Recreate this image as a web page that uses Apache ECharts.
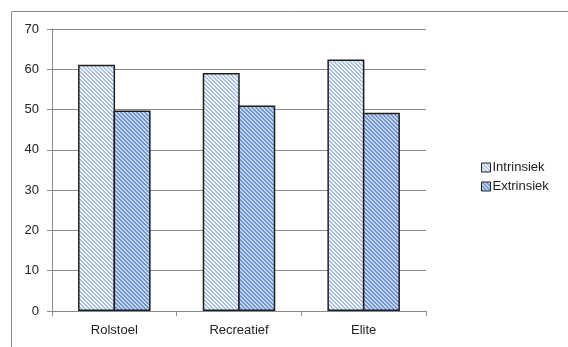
<!DOCTYPE html>
<html>
<head>
<meta charset="utf-8">
<script src="https://cdn.jsdelivr.net/npm/echarts@6/dist/echarts.min.js"></script>
<style>
  html, body { margin: 0; padding: 0; background: #fff; }
  #chart { width: 568px; height: 347px; }
</style>
</head>
<body>
<div id="chart"></div>
<script>
const categories = ['Rolstoel', 'Recreatief', 'Elite'];
const intrinsiek = [61.1, 59.1, 62.4];
const extrinsiek = [49.8, 51.0, 49.2];
const seriesNames = ['Intrinsiek', 'Extrinsiek'];

// Diagonal hatch fill built on a small tiled canvas
function hatch(bg, line, width) {
  const c = document.createElement('canvas');
  c.width = 4; c.height = 4;
  const ctx = c.getContext('2d');
  ctx.fillStyle = bg;
  ctx.fillRect(0, 0, 4, 4);
  ctx.fillStyle = line;
  for (let i = 0; i < 4; i++) {
    for (let w = 0; w < width; w++) {
      ctx.fillRect((i + w) % 4, i, 1, 1);
    }
  }
  return { image: c, repeat: 'repeat' };
}

const fillIntr = hatch('#f4f7fc', '#a7bfe5', 2);
const fillExtr = hatch('#c9d8f0', '#6f93cf', 2);

const chart = echarts.init(document.getElementById('chart'), null, { renderer: 'canvas' });
const font = '"Liberation Sans", "Open Sans", sans-serif';

chart.setOption({
  animation: false,
  backgroundColor: '#fff',
  graphic: [{
    type: 'rect',
    shape: { x: 11.5, y: 11.5, width: 620, height: 400 },
    style: { fill: 'none', stroke: '#8a8a8a', lineWidth: 1 },
    silent: true
  }],
  grid: { left: 52, right: 142, top: 29, bottom: 36 },
  legend: {
    orient: 'vertical',
    left: 476,
    top: 156,
    itemWidth: 9,
    itemHeight: 9,
    itemGap: 6,
    icon: 'rect',
    textStyle: { fontFamily: font, fontSize: 13, color: '#222', padding: [0, 0, 0, -3] },
    itemStyle: { borderColor: '#222', borderWidth: 1 },
    data: seriesNames
  },
  xAxis: {
    type: 'category',
    data: categories,
    axisLine: { lineStyle: { color: '#8a8a8a', width: 1 } },
    axisTick: { show: true, length: 5, lineStyle: { color: '#8a8a8a' } },
    axisLabel: { fontFamily: font, fontSize: 13, color: '#222', margin: 13 }
  },
  yAxis: {
    type: 'value',
    min: 0,
    max: 70,
    interval: 10,
    axisLine: { show: true, lineStyle: { color: '#8a8a8a', width: 1 } },
    axisTick: { show: true, length: 5, lineStyle: { color: '#8a8a8a' } },
    axisLabel: { fontFamily: font, fontSize: 13, color: '#222', margin: 13 },
    splitLine: { lineStyle: { color: '#8a8a8a', width: 1 } }
  },
  series: [
    {
      name: seriesNames[0],
      type: 'bar',
      data: intrinsiek,
      barWidth: 37,
      barGap: '-4%',
      itemStyle: { color: fillIntr, borderColor: '#1e1e1e', borderWidth: 1.5 }
    },
    {
      name: seriesNames[1],
      type: 'bar',
      data: extrinsiek,
      barWidth: 37,
      barGap: '-4%',
      itemStyle: { color: fillExtr, borderColor: '#1e1e1e', borderWidth: 1.5 }
    }
  ]
});
</script>
</body>
</html>
